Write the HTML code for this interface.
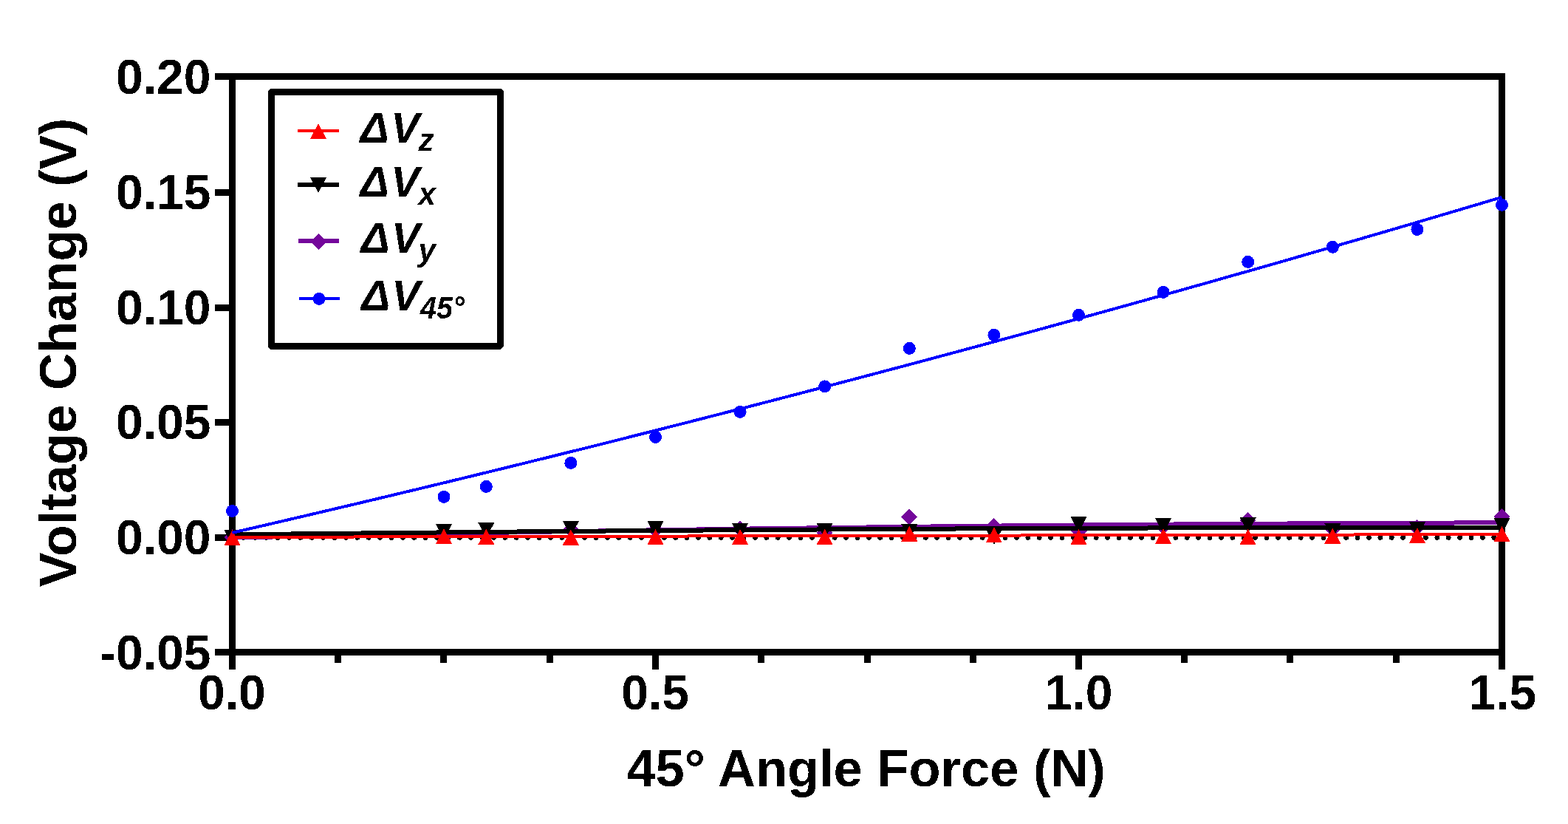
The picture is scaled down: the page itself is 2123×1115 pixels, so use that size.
<!DOCTYPE html><html><head><meta charset="utf-8"><title>Voltage Change vs 45° Angle Force</title><style>html,body{margin:0;padding:0;background:#fff;}svg{display:block;}text{font-family:"Liberation Sans",Arial,sans-serif;font-weight:bold;fill:#000;}</style></head><body>
<svg width="2123" height="1115" viewBox="0 0 2123 1115">
<rect x="0" y="0" width="2123" height="1115" fill="#fff"/>
<defs><filter id="bin" x="0" y="0" width="2123" height="1115" filterUnits="userSpaceOnUse" color-interpolation-filters="sRGB"><feComponentTransfer><feFuncA type="discrete" tableValues="0 1"/></feComponentTransfer></filter></defs>
<g fill="#000" shape-rendering="crispEdges">
<rect x="291" y="99" width="1747" height="9"/>
<rect x="310" y="99" width="9" height="807"/>
<rect x="2029" y="99" width="9" height="807"/>
<rect x="291" y="878" width="1747" height="9"/>
<rect x="291" y="256" width="20" height="9"/>
<rect x="291" y="412" width="20" height="9"/>
<rect x="291" y="567" width="20" height="9"/>
<rect x="291" y="723" width="20" height="9"/>
<rect x="453" y="887" width="9" height="10"/>
<rect x="596" y="887" width="9" height="10"/>
<rect x="740" y="887" width="9" height="10"/>
<rect x="883" y="887" width="9" height="19"/>
<rect x="1026" y="887" width="9" height="10"/>
<rect x="1170" y="887" width="9" height="10"/>
<rect x="1313" y="887" width="9" height="10"/>
<rect x="1456" y="887" width="9" height="19"/>
<rect x="1599" y="887" width="9" height="10"/>
<rect x="1742" y="887" width="9" height="10"/>
<rect x="1886" y="887" width="9" height="10"/>
</g>
<g filter="url(#bin)">
<g font-size="66" text-anchor="end">
<text x="285.5" y="127">0.20</text>
<text x="285.5" y="283">0.15</text>
<text x="285.5" y="439">0.10</text>
<text x="285.5" y="594">0.05</text>
<text x="285.5" y="750">0.00</text>
<text x="285.5" y="906.3">-0.05</text>
</g>
<g font-size="66" text-anchor="middle">
<text x="313.9" y="960.3">0.0</text>
<text x="887.0" y="960.3">0.5</text>
<text x="1460.7" y="960.3">1.0</text>
<text x="2034.3" y="960.3">1.5</text>
</g>
<text x="848.4" y="1064" font-size="70.5">45° Angle Force (N)</text>
<text transform="translate(103,477) rotate(-90)" text-anchor="middle" font-size="69.8">Voltage Change (V)</text>
</g>
<g fill="#000" shape-rendering="crispEdges">
<circle cx="314.50" cy="727.4" r="3.4"/>
<circle cx="329.89" cy="727.4" r="3.4"/>
<circle cx="345.28" cy="727.4" r="3.4"/>
<circle cx="360.67" cy="727.4" r="3.4"/>
<circle cx="376.06" cy="727.4" r="3.4"/>
<circle cx="391.45" cy="727.4" r="3.4"/>
<circle cx="406.84" cy="727.4" r="3.4"/>
<circle cx="422.23" cy="727.4" r="3.4"/>
<circle cx="437.62" cy="727.4" r="3.4"/>
<circle cx="453.01" cy="727.4" r="3.4"/>
<circle cx="468.40" cy="727.4" r="3.4"/>
<circle cx="483.79" cy="727.4" r="3.4"/>
<circle cx="499.18" cy="727.4" r="3.4"/>
<circle cx="514.57" cy="727.4" r="3.4"/>
<circle cx="529.96" cy="727.4" r="3.4"/>
<circle cx="545.35" cy="727.4" r="3.4"/>
<circle cx="560.74" cy="727.4" r="3.4"/>
<circle cx="576.13" cy="727.4" r="3.4"/>
<circle cx="591.52" cy="727.4" r="3.4"/>
<circle cx="606.91" cy="727.4" r="3.4"/>
<circle cx="622.30" cy="727.4" r="3.4"/>
<circle cx="637.69" cy="727.4" r="3.4"/>
<circle cx="653.08" cy="727.4" r="3.4"/>
<circle cx="668.47" cy="727.4" r="3.4"/>
<circle cx="683.86" cy="727.4" r="3.4"/>
<circle cx="699.25" cy="727.4" r="3.4"/>
<circle cx="714.64" cy="727.4" r="3.4"/>
<circle cx="730.03" cy="727.4" r="3.4"/>
<circle cx="745.42" cy="727.4" r="3.4"/>
<circle cx="760.81" cy="727.4" r="3.4"/>
<circle cx="776.20" cy="727.4" r="3.4"/>
<circle cx="791.59" cy="727.4" r="3.4"/>
<circle cx="806.98" cy="727.4" r="3.4"/>
<circle cx="822.37" cy="727.4" r="3.4"/>
<circle cx="837.76" cy="727.4" r="3.4"/>
<circle cx="853.15" cy="727.4" r="3.4"/>
<circle cx="868.54" cy="727.4" r="3.4"/>
<circle cx="883.93" cy="727.4" r="3.4"/>
<circle cx="899.32" cy="727.4" r="3.4"/>
<circle cx="914.71" cy="727.4" r="3.4"/>
<circle cx="930.10" cy="727.4" r="3.4"/>
<circle cx="945.49" cy="727.4" r="3.4"/>
<circle cx="960.88" cy="727.4" r="3.4"/>
<circle cx="976.27" cy="727.4" r="3.4"/>
<circle cx="991.66" cy="727.4" r="3.4"/>
<circle cx="1007.05" cy="727.4" r="3.4"/>
<circle cx="1022.44" cy="727.4" r="3.4"/>
<circle cx="1037.83" cy="727.4" r="3.4"/>
<circle cx="1053.22" cy="727.4" r="3.4"/>
<circle cx="1068.61" cy="727.4" r="3.4"/>
<circle cx="1084.00" cy="727.4" r="3.4"/>
<circle cx="1099.39" cy="727.4" r="3.4"/>
<circle cx="1114.78" cy="727.4" r="3.4"/>
<circle cx="1130.17" cy="727.4" r="3.4"/>
<circle cx="1145.56" cy="727.4" r="3.4"/>
<circle cx="1160.95" cy="727.4" r="3.4"/>
<circle cx="1176.34" cy="727.4" r="3.4"/>
<circle cx="1191.73" cy="727.4" r="3.4"/>
<circle cx="1207.12" cy="727.4" r="3.4"/>
<circle cx="1222.51" cy="727.4" r="3.4"/>
<circle cx="1237.90" cy="727.4" r="3.4"/>
<circle cx="1253.29" cy="727.4" r="3.4"/>
<circle cx="1268.68" cy="727.4" r="3.4"/>
<circle cx="1284.07" cy="727.4" r="3.4"/>
<circle cx="1299.46" cy="727.4" r="3.4"/>
<circle cx="1314.85" cy="727.4" r="3.4"/>
<circle cx="1330.24" cy="727.4" r="3.4"/>
<circle cx="1345.63" cy="727.4" r="3.4"/>
<circle cx="1361.02" cy="727.4" r="3.4"/>
<circle cx="1376.41" cy="727.4" r="3.4"/>
<circle cx="1391.80" cy="727.4" r="3.4"/>
<circle cx="1407.19" cy="727.4" r="3.4"/>
<circle cx="1422.58" cy="727.4" r="3.4"/>
<circle cx="1437.97" cy="727.4" r="3.4"/>
<circle cx="1453.36" cy="727.4" r="3.4"/>
<circle cx="1468.75" cy="727.4" r="3.4"/>
<circle cx="1484.14" cy="727.4" r="3.4"/>
<circle cx="1499.53" cy="727.4" r="3.4"/>
<circle cx="1514.92" cy="727.4" r="3.4"/>
<circle cx="1530.31" cy="727.4" r="3.4"/>
<circle cx="1545.70" cy="727.4" r="3.4"/>
<circle cx="1561.09" cy="727.4" r="3.4"/>
<circle cx="1576.48" cy="727.4" r="3.4"/>
<circle cx="1591.87" cy="727.4" r="3.4"/>
<circle cx="1607.26" cy="727.4" r="3.4"/>
<circle cx="1622.65" cy="727.4" r="3.4"/>
<circle cx="1638.04" cy="727.4" r="3.4"/>
<circle cx="1653.43" cy="727.4" r="3.4"/>
<circle cx="1668.82" cy="727.4" r="3.4"/>
<circle cx="1684.21" cy="727.4" r="3.4"/>
<circle cx="1699.60" cy="727.4" r="3.4"/>
<circle cx="1714.99" cy="727.4" r="3.4"/>
<circle cx="1730.38" cy="727.4" r="3.4"/>
<circle cx="1745.77" cy="727.4" r="3.4"/>
<circle cx="1761.16" cy="727.4" r="3.4"/>
<circle cx="1776.55" cy="727.4" r="3.4"/>
<circle cx="1791.94" cy="727.4" r="3.4"/>
<circle cx="1807.33" cy="727.4" r="3.4"/>
<circle cx="1822.72" cy="727.4" r="3.4"/>
<circle cx="1838.11" cy="727.4" r="3.4"/>
<circle cx="1853.50" cy="727.4" r="3.4"/>
<circle cx="1868.89" cy="727.4" r="3.4"/>
<circle cx="1884.28" cy="727.4" r="3.4"/>
<circle cx="1899.67" cy="727.4" r="3.4"/>
<circle cx="1915.06" cy="727.4" r="3.4"/>
<circle cx="1930.45" cy="727.4" r="3.4"/>
<circle cx="1945.84" cy="727.4" r="3.4"/>
<circle cx="1961.23" cy="727.4" r="3.4"/>
<circle cx="1976.62" cy="727.4" r="3.4"/>
<circle cx="1992.01" cy="727.4" r="3.4"/>
<circle cx="2007.40" cy="727.4" r="3.4"/>
<circle cx="2022.79" cy="727.4" r="3.4"/>
</g>
<g shape-rendering="crispEdges">
<path d="M314.50,727.65 L323.14,727.46 L331.78,727.28 L340.41,727.10 L349.05,726.92 L357.69,726.74 L366.33,726.57 L374.97,726.39 L383.61,726.21 L392.24,726.04 L400.88,725.86 L409.52,725.69 L418.16,725.51 L426.80,725.34 L435.43,725.17 L444.07,725.00 L452.71,724.83 L461.35,724.66 L469.99,724.49 L478.63,724.33 L487.26,724.16 L495.90,723.99 L504.54,723.83 L513.18,723.66 L521.82,723.50 L530.45,723.34 L539.09,723.18 L547.73,723.02 L556.37,722.85 L565.01,722.70 L573.65,722.54 L582.28,722.38 L590.92,722.22 L599.56,722.07 L608.20,721.91 L616.84,721.76 L625.47,721.60 L634.11,721.45 L642.75,721.30 L651.39,721.15 L660.03,721.00 L668.67,720.85 L677.30,720.70 L685.94,720.55 L694.58,720.40 L703.22,720.25 L711.86,720.11 L720.49,719.96 L729.13,719.82 L737.77,719.68 L746.41,719.53 L755.05,719.39 L763.69,719.25 L772.32,719.11 L780.96,718.97 L789.60,718.83 L798.24,718.70 L806.88,718.56 L815.52,718.42 L824.15,718.29 L832.79,718.15 L841.43,718.02 L850.07,717.89 L858.71,717.76 L867.34,717.62 L875.98,717.49 L884.62,717.36 L893.26,717.24 L901.90,717.11 L910.54,716.98 L919.17,716.85 L927.81,716.73 L936.45,716.60 L945.09,716.48 L953.73,716.36 L962.36,716.23 L971.00,716.11 L979.64,715.99 L988.28,715.87 L996.92,715.75 L1005.56,715.64 L1014.19,715.52 L1022.83,715.40 L1031.47,715.29 L1040.11,715.17 L1048.75,715.06 L1057.38,714.94 L1066.02,714.83 L1074.66,714.72 L1083.30,714.61 L1091.94,714.50 L1100.58,714.39 L1109.21,714.28 L1117.85,714.17 L1126.49,714.06 L1135.13,713.96 L1143.77,713.85 L1152.40,713.75 L1161.04,713.64 L1169.68,713.54 L1178.32,713.44 L1186.96,713.34 L1195.60,713.24 L1204.23,713.14 L1212.87,713.04 L1221.51,712.94 L1230.15,712.84 L1238.79,712.75 L1247.42,712.65 L1256.06,712.56 L1264.70,712.46 L1273.34,712.37 L1281.98,712.28 L1290.62,712.18 L1299.25,712.09 L1307.89,712.00 L1316.53,711.91 L1325.17,711.83 L1333.81,711.74 L1342.44,711.65 L1351.08,711.56 L1359.72,711.48 L1368.36,711.40 L1377.00,711.31 L1385.64,711.23 L1394.27,711.15 L1402.91,711.07 L1411.55,710.99 L1420.19,710.91 L1428.83,710.83 L1437.46,710.75 L1446.10,710.67 L1454.74,710.60 L1463.38,710.52 L1472.02,710.44 L1480.66,710.37 L1489.29,710.30 L1497.93,710.23 L1506.57,710.15 L1515.21,710.08 L1523.85,710.01 L1532.48,709.94 L1541.12,709.88 L1549.76,709.81 L1558.40,709.74 L1567.04,709.68 L1575.68,709.61 L1584.31,709.55 L1592.95,709.48 L1601.59,709.42 L1610.23,709.36 L1618.87,709.30 L1627.51,709.24 L1636.14,709.18 L1644.78,709.12 L1653.42,709.06 L1662.06,709.00 L1670.70,708.95 L1679.33,708.89 L1687.97,708.84 L1696.61,708.78 L1705.25,708.73 L1713.89,708.68 L1722.53,708.63 L1731.16,708.58 L1739.80,708.53 L1748.44,708.48 L1757.08,708.43 L1765.72,708.38 L1774.35,708.34 L1782.99,708.29 L1791.63,708.25 L1800.27,708.20 L1808.91,708.16 L1817.55,708.12 L1826.18,708.07 L1834.82,708.03 L1843.46,707.99 L1852.10,707.95 L1860.74,707.91 L1869.37,707.88 L1878.01,707.84 L1886.65,707.80 L1895.29,707.77 L1903.93,707.73 L1912.57,707.70 L1921.20,707.67 L1929.84,707.64 L1938.48,707.60 L1947.12,707.57 L1955.76,707.54 L1964.39,707.52 L1973.03,707.49 L1981.67,707.46 L1990.31,707.43 L1998.95,707.41 L2007.59,707.38 L2016.22,707.36 L2024.86,707.34 L2033.50,707.31" fill="none" stroke="#74069B" stroke-width="6"/>
<polygon points="314.5,716.0 325.5,727.0 314.5,738.0 303.5,727.0" fill="#74069B"/>
<polygon points="601.0,714.0 612.0,725.0 601.0,736.0 590.0,725.0" fill="#74069B"/>
<polygon points="658.3,713.0 669.3,724.0 658.3,735.0 647.3,724.0" fill="#74069B"/>
<polygon points="772.9,705.5 783.9,716.5 772.9,727.5 761.9,716.5" fill="#74069B"/>
<polygon points="887.5,706.0 898.5,717.0 887.5,728.0 876.5,717.0" fill="#74069B"/>
<polygon points="1002.1,704.8 1013.1,715.8 1002.1,726.8 991.1,715.8" fill="#74069B"/>
<polygon points="1116.7,710.0 1127.7,721.0 1116.7,732.0 1105.7,721.0" fill="#74069B"/>
<polygon points="1231.3,688.5 1242.3,699.5 1231.3,710.5 1220.3,699.5" fill="#74069B"/>
<polygon points="1345.9,701.0 1356.9,712.0 1345.9,723.0 1334.9,712.0" fill="#74069B"/>
<polygon points="1460.5,707.5 1471.5,718.5 1460.5,729.5 1449.5,718.5" fill="#74069B"/>
<polygon points="1575.1,701.5 1586.1,712.5 1575.1,723.5 1564.1,712.5" fill="#74069B"/>
<polygon points="1689.7,693.0 1700.7,704.0 1689.7,715.0 1678.7,704.0" fill="#74069B"/>
<polygon points="1804.3,705.0 1815.3,716.0 1804.3,727.0 1793.3,716.0" fill="#74069B"/>
<polygon points="1918.9,703.0 1929.9,714.0 1918.9,725.0 1907.9,714.0" fill="#74069B"/>
<polygon points="2033.5,687.8 2044.5,698.8 2033.5,709.8 2022.5,698.8" fill="#74069B"/>
<path d="M314.50,723.40 L323.14,723.30 L331.78,723.20 L340.41,723.10 L349.05,723.01 L357.69,722.91 L366.33,722.82 L374.97,722.72 L383.61,722.63 L392.24,722.53 L400.88,722.44 L409.52,722.34 L418.16,722.25 L426.80,722.16 L435.43,722.07 L444.07,721.98 L452.71,721.89 L461.35,721.80 L469.99,721.71 L478.63,721.62 L487.26,721.53 L495.90,721.44 L504.54,721.35 L513.18,721.27 L521.82,721.18 L530.45,721.09 L539.09,721.01 L547.73,720.92 L556.37,720.84 L565.01,720.76 L573.65,720.67 L582.28,720.59 L590.92,720.51 L599.56,720.42 L608.20,720.34 L616.84,720.26 L625.47,720.18 L634.11,720.10 L642.75,720.02 L651.39,719.94 L660.03,719.86 L668.67,719.79 L677.30,719.71 L685.94,719.63 L694.58,719.56 L703.22,719.48 L711.86,719.41 L720.49,719.33 L729.13,719.26 L737.77,719.18 L746.41,719.11 L755.05,719.04 L763.69,718.96 L772.32,718.89 L780.96,718.82 L789.60,718.75 L798.24,718.68 L806.88,718.61 L815.52,718.54 L824.15,718.47 L832.79,718.40 L841.43,718.34 L850.07,718.27 L858.71,718.20 L867.34,718.14 L875.98,718.07 L884.62,718.01 L893.26,717.94 L901.90,717.88 L910.54,717.81 L919.17,717.75 L927.81,717.69 L936.45,717.63 L945.09,717.56 L953.73,717.50 L962.36,717.44 L971.00,717.38 L979.64,717.32 L988.28,717.26 L996.92,717.21 L1005.56,717.15 L1014.19,717.09 L1022.83,717.03 L1031.47,716.98 L1040.11,716.92 L1048.75,716.86 L1057.38,716.81 L1066.02,716.76 L1074.66,716.70 L1083.30,716.65 L1091.94,716.59 L1100.58,716.54 L1109.21,716.49 L1117.85,716.44 L1126.49,716.39 L1135.13,716.34 L1143.77,716.29 L1152.40,716.24 L1161.04,716.19 L1169.68,716.14 L1178.32,716.09 L1186.96,716.05 L1195.60,716.00 L1204.23,715.95 L1212.87,715.91 L1221.51,715.86 L1230.15,715.82 L1238.79,715.77 L1247.42,715.73 L1256.06,715.69 L1264.70,715.64 L1273.34,715.60 L1281.98,715.56 L1290.62,715.52 L1299.25,715.48 L1307.89,715.44 L1316.53,715.40 L1325.17,715.36 L1333.81,715.32 L1342.44,715.28 L1351.08,715.24 L1359.72,715.21 L1368.36,715.17 L1377.00,715.13 L1385.64,715.10 L1394.27,715.06 L1402.91,715.03 L1411.55,714.99 L1420.19,714.96 L1428.83,714.93 L1437.46,714.90 L1446.10,714.86 L1454.74,714.83 L1463.38,714.80 L1472.02,714.77 L1480.66,714.74 L1489.29,714.71 L1497.93,714.68 L1506.57,714.65 L1515.21,714.63 L1523.85,714.60 L1532.48,714.57 L1541.12,714.54 L1549.76,714.52 L1558.40,714.49 L1567.04,714.47 L1575.68,714.44 L1584.31,714.42 L1592.95,714.40 L1601.59,714.37 L1610.23,714.35 L1618.87,714.33 L1627.51,714.31 L1636.14,714.29 L1644.78,714.27 L1653.42,714.25 L1662.06,714.23 L1670.70,714.21 L1679.33,714.19 L1687.97,714.17 L1696.61,714.16 L1705.25,714.14 L1713.89,714.12 L1722.53,714.11 L1731.16,714.09 L1739.80,714.08 L1748.44,714.06 L1757.08,714.05 L1765.72,714.04 L1774.35,714.02 L1782.99,714.01 L1791.63,714.00 L1800.27,713.99 L1808.91,713.98 L1817.55,713.97 L1826.18,713.96 L1834.82,713.95 L1843.46,713.94 L1852.10,713.93 L1860.74,713.92 L1869.37,713.92 L1878.01,713.91 L1886.65,713.90 L1895.29,713.90 L1903.93,713.89 L1912.57,713.89 L1921.20,713.88 L1929.84,713.88 L1938.48,713.88 L1947.12,713.88 L1955.76,713.87 L1964.39,713.87 L1973.03,713.87 L1981.67,713.87 L1990.31,713.87 L1998.95,713.87 L2007.59,713.87 L2016.22,713.87 L2024.86,713.88 L2033.50,713.88" fill="none" stroke="#000" stroke-width="6"/>
<polygon points="303.5,717.0 325.5,717.0 314.5,738.0" fill="#000"/>
<polygon points="590.0,709.0 612.0,709.0 601.0,730.0" fill="#000"/>
<polygon points="647.3,707.2 669.3,707.2 658.3,728.2" fill="#000"/>
<polygon points="761.9,705.0 783.9,705.0 772.9,726.0" fill="#000"/>
<polygon points="876.5,705.0 898.5,705.0 887.5,726.0" fill="#000"/>
<polygon points="991.1,708.3 1013.1,708.3 1002.1,729.3" fill="#000"/>
<polygon points="1105.7,708.0 1127.7,708.0 1116.7,729.0" fill="#000"/>
<polygon points="1220.3,709.2 1242.3,709.2 1231.3,730.2" fill="#000"/>
<polygon points="1334.9,716.0 1356.9,716.0 1345.9,737.0" fill="#000"/>
<polygon points="1449.5,699.2 1471.5,699.2 1460.5,720.2" fill="#000"/>
<polygon points="1564.1,701.2 1586.1,701.2 1575.1,722.2" fill="#000"/>
<polygon points="1678.7,700.2 1700.7,700.2 1689.7,721.2" fill="#000"/>
<polygon points="1793.3,708.2 1815.3,708.2 1804.3,729.2" fill="#000"/>
<polygon points="1907.9,706.0 1929.9,706.0 1918.9,727.0" fill="#000"/>
<polygon points="2022.5,701.3 2044.5,701.3 2033.5,722.3" fill="#000"/>
<path d="M314.50,726.87 L2033.50,723.06" fill="none" stroke="#f00" stroke-width="4"/>
<polygon points="303.5,737.9 325.5,737.9 314.5,716.9" fill="#f00"/>
<polygon points="590.0,736.0 612.0,736.0 601.0,715.0" fill="#f00"/>
<polygon points="647.3,736.9 669.3,736.9 658.3,715.9" fill="#f00"/>
<polygon points="761.9,737.5 783.9,737.5 772.9,716.5" fill="#f00"/>
<polygon points="876.5,736.9 898.5,736.9 887.5,715.9" fill="#f00"/>
<polygon points="991.1,736.9 1013.1,736.9 1002.1,715.9" fill="#f00"/>
<polygon points="1105.7,736.9 1127.7,736.9 1116.7,715.9" fill="#f00"/>
<polygon points="1220.3,732.5 1242.3,732.5 1231.3,711.5" fill="#f00"/>
<polygon points="1334.9,734.3 1356.9,734.3 1345.9,713.3" fill="#f00"/>
<polygon points="1449.5,736.9 1471.5,736.9 1460.5,715.9" fill="#f00"/>
<polygon points="1564.1,735.9 1586.1,735.9 1575.1,714.9" fill="#f00"/>
<polygon points="1678.7,736.9 1700.7,736.9 1689.7,715.9" fill="#f00"/>
<polygon points="1793.3,735.7 1815.3,735.7 1804.3,714.7" fill="#f00"/>
<polygon points="1907.9,734.9 1929.9,734.9 1918.9,713.9" fill="#f00"/>
<polygon points="2022.5,733.2 2044.5,733.2 2033.5,712.2" fill="#f00"/>
<path d="M314.50,720.86 L323.14,718.87 L331.78,716.87 L340.41,714.88 L349.05,712.88 L357.69,710.88 L366.33,708.88 L374.97,706.87 L383.61,704.86 L392.24,702.85 L400.88,700.83 L409.52,698.81 L418.16,696.79 L426.80,694.76 L435.43,692.74 L444.07,690.71 L452.71,688.67 L461.35,686.64 L469.99,684.60 L478.63,682.55 L487.26,680.51 L495.90,678.46 L504.54,676.41 L513.18,674.35 L521.82,672.30 L530.45,670.24 L539.09,668.17 L547.73,666.11 L556.37,664.04 L565.01,661.97 L573.65,659.89 L582.28,657.81 L590.92,655.73 L599.56,653.65 L608.20,651.56 L616.84,649.47 L625.47,647.38 L634.11,645.28 L642.75,643.18 L651.39,641.08 L660.03,638.98 L668.67,636.87 L677.30,634.76 L685.94,632.65 L694.58,630.53 L703.22,628.41 L711.86,626.29 L720.49,624.16 L729.13,622.04 L737.77,619.90 L746.41,617.77 L755.05,615.63 L763.69,613.49 L772.32,611.35 L780.96,609.21 L789.60,607.06 L798.24,604.90 L806.88,602.75 L815.52,600.59 L824.15,598.43 L832.79,596.27 L841.43,594.10 L850.07,591.93 L858.71,589.76 L867.34,587.58 L875.98,585.41 L884.62,583.22 L893.26,581.04 L901.90,578.85 L910.54,576.66 L919.17,574.47 L927.81,572.27 L936.45,570.08 L945.09,567.87 L953.73,565.67 L962.36,563.46 L971.00,561.25 L979.64,559.04 L988.28,556.82 L996.92,554.60 L1005.56,552.38 L1014.19,550.15 L1022.83,547.92 L1031.47,545.69 L1040.11,543.46 L1048.75,541.22 L1057.38,538.98 L1066.02,536.74 L1074.66,534.49 L1083.30,532.24 L1091.94,529.99 L1100.58,527.73 L1109.21,525.48 L1117.85,523.22 L1126.49,520.95 L1135.13,518.68 L1143.77,516.41 L1152.40,514.14 L1161.04,511.87 L1169.68,509.59 L1178.32,507.31 L1186.96,505.02 L1195.60,502.73 L1204.23,500.44 L1212.87,498.15 L1221.51,495.85 L1230.15,493.55 L1238.79,491.25 L1247.42,488.95 L1256.06,486.64 L1264.70,484.33 L1273.34,482.01 L1281.98,479.70 L1290.62,477.38 L1299.25,475.05 L1307.89,472.73 L1316.53,470.40 L1325.17,468.07 L1333.81,465.73 L1342.44,463.39 L1351.08,461.05 L1359.72,458.71 L1368.36,456.36 L1377.00,454.01 L1385.64,451.66 L1394.27,449.31 L1402.91,446.95 L1411.55,444.59 L1420.19,442.22 L1428.83,439.85 L1437.46,437.48 L1446.10,435.11 L1454.74,432.73 L1463.38,430.36 L1472.02,427.97 L1480.66,425.59 L1489.29,423.20 L1497.93,420.81 L1506.57,418.42 L1515.21,416.02 L1523.85,413.62 L1532.48,411.22 L1541.12,408.81 L1549.76,406.40 L1558.40,403.99 L1567.04,401.58 L1575.68,399.16 L1584.31,396.74 L1592.95,394.32 L1601.59,391.89 L1610.23,389.46 L1618.87,387.03 L1627.51,384.59 L1636.14,382.16 L1644.78,379.71 L1653.42,377.27 L1662.06,374.82 L1670.70,372.37 L1679.33,369.92 L1687.97,367.46 L1696.61,365.01 L1705.25,362.54 L1713.89,360.08 L1722.53,357.61 L1731.16,355.14 L1739.80,352.67 L1748.44,350.19 L1757.08,347.71 L1765.72,345.23 L1774.35,342.74 L1782.99,340.26 L1791.63,337.77 L1800.27,335.27 L1808.91,332.77 L1817.55,330.27 L1826.18,327.77 L1834.82,325.26 L1843.46,322.76 L1852.10,320.24 L1860.74,317.73 L1869.37,315.21 L1878.01,312.69 L1886.65,310.17 L1895.29,307.64 L1903.93,305.11 L1912.57,302.58 L1921.20,300.04 L1929.84,297.50 L1938.48,294.96 L1947.12,292.42 L1955.76,289.87 L1964.39,287.32 L1973.03,284.77 L1981.67,282.21 L1990.31,279.65 L1998.95,277.09 L2007.59,274.53 L2016.22,271.96 L2024.86,269.39 L2033.50,266.81" fill="none" stroke="#00f" stroke-width="4"/>
<circle cx="314.5" cy="691.5" r="8.5" fill="#00f"/>
<circle cx="601.0" cy="672.3" r="8.5" fill="#00f"/>
<circle cx="658.3" cy="658.4" r="8.5" fill="#00f"/>
<circle cx="772.9" cy="626.4" r="8.5" fill="#00f"/>
<circle cx="887.5" cy="591.4" r="8.5" fill="#00f"/>
<circle cx="1002.1" cy="557.4" r="8.5" fill="#00f"/>
<circle cx="1116.7" cy="522.9" r="8.5" fill="#00f"/>
<circle cx="1231.3" cy="471.4" r="8.5" fill="#00f"/>
<circle cx="1345.9" cy="453.3" r="8.5" fill="#00f"/>
<circle cx="1460.5" cy="426.3" r="8.5" fill="#00f"/>
<circle cx="1575.1" cy="395.3" r="8.5" fill="#00f"/>
<circle cx="1689.7" cy="354.4" r="8.5" fill="#00f"/>
<circle cx="1804.3" cy="334.3" r="8.5" fill="#00f"/>
<circle cx="1918.9" cy="310.5" r="8.5" fill="#00f"/>
<circle cx="2033.5" cy="277.3" r="8.5" fill="#00f"/>
</g>
<path fill="#000" fill-rule="evenodd" d="M366.3,120 H678.7 L682,123.3 V468.5 L677.5,473 H366.3 L363,469.7 V123.3 Z M372,129 V464 H673 V129 Z"/>
<g shape-rendering="crispEdges">
<rect x="403" y="175" width="56" height="4" fill="#f00"/>
<polygon points="420.0,188.0 442.0,188.0 431.0,167.0" fill="#f00"/>
<rect x="403" y="247" width="56" height="6" fill="#000"/>
<polygon points="420.0,240.0 442.0,240.0 431.0,261.0" fill="#000"/>
<rect x="404" y="323" width="55" height="6" fill="#74069B"/>
<polygon points="431.5,316.0 442.5,327.0 431.5,338.0 420.5,327.0" fill="#74069B"/>
<rect x="405" y="402" width="55" height="4" fill="#00f"/>
<circle cx="432.0" cy="404.4" r="8.5" fill="#00f"/>
</g>
<g font-style="italic" filter="url(#bin)">
<text y="192.8" font-size="58"><tspan x="487.7">Δ</tspan><tspan x="529.2">V</tspan></text>
<text x="566.5" y="203.9" font-size="42">z</text>
<text y="265.8" font-size="58"><tspan x="487.7">Δ</tspan><tspan x="529.2">V</tspan></text>
<text x="566.5" y="276.9" font-size="42">x</text>
<text y="341.6" font-size="58"><tspan x="488.7">Δ</tspan><tspan x="529.9">V</tspan></text>
<text x="566.5" y="352.6" font-size="42">y</text>
<text y="419.9" font-size="58"><tspan x="489.2">Δ</tspan><tspan x="530.2">V</tspan></text>
<text transform="translate(569.0,430.9) scale(0.94,1)" font-size="42">45°</text>
</g>
</svg></body></html>
